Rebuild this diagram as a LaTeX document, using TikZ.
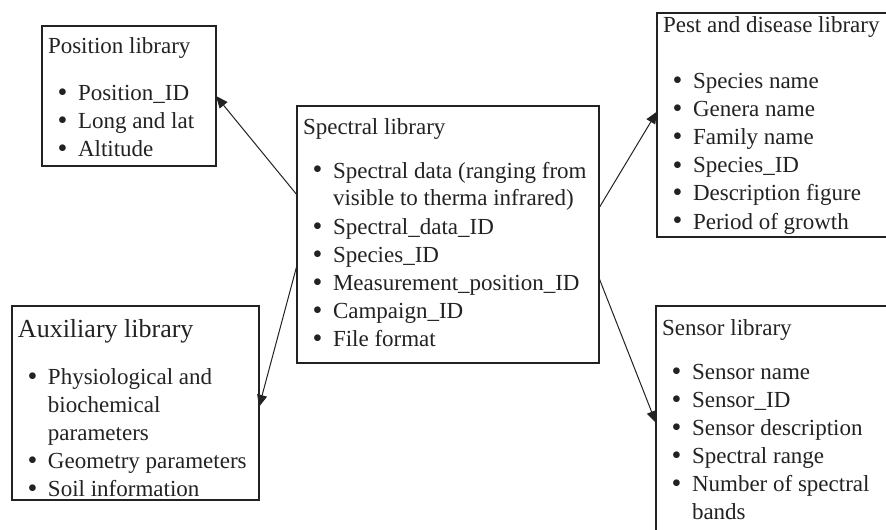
\documentclass[tikz,border=0pt]{standalone}
\usepackage{fontspec}
\setmainfont{Liberation Serif}
\usetikzlibrary{arrows.meta,calc}
\definecolor{lgrey}{HTML}{222222}

% one bullet line of a library box
\newcommand{\itm}{\par\hangindent=15pt\hangafter=1\noindent
  \makebox[15pt][l]{\hspace{4.8pt}\raisebox{-0.5pt}{\scalebox{1.22}{\textbullet}}}}
% line break inside one item, keeps the hanging indent
\newcommand{\brk}{\hfil\break}
% box text: width, height, title top, gap after title, title, items
\newcommand{\libtext}[6]{\parbox[t][#2][t]{\dimexpr#1-6pt\relax}{\rule{0pt}{#3}#5\par\vspace{#4}#6}}

\begin{document}
\begin{tikzpicture}[
  x=0.5pt, y=-0.5pt,
  lib/.style={draw=lgrey, line width=0.6pt, anchor=north west, inner xsep=3pt, inner ysep=0pt,
              outer sep=0pt, text=lgrey, font=\fontsize{11.5}{14}\selectfont},
  link/.style={-{Triangle[length=6pt,width=5pt]}, lgrey, line width=0.5pt},
]
\useasboundingbox (0,0) rectangle (886,529);

% ---------------- the libraries ----------------
\node[lib] (spec) at (297,106) {\libtext{151pt}{128.5pt}{14pt}{8pt}{Spectral library}{%
  \itm \mbox{Spectral data (ranging from}\brk\mbox{visible to therma infrared)}
  \itm Spectral\_data\_ID
  \itm Species\_ID
  \itm Measurement\_position\_ID
  \itm Campaign\_ID
  \itm File format}};
\node[lib] (pos) at (42,26) {\libtext{87pt}{70pt}{14pt}{9.5pt}{Position library}{%
  \itm Position\_ID
  \itm Long and lat
  \itm Altitude}};
\node[lib] (pest) at (657,13) {\libtext{120pt}{112pt}{10pt}{14pt}{Pest and disease library}{%
  \itm Species name
  \itm Genera name
  \itm Family name
  \itm Species\_ID
  \itm Description figure
  \itm Period of growth}};
\node[lib] (aux) at (12,306) {\libtext{123.5pt}{97pt}{15.5pt}{9.5pt}%
  {{\fontsize{13}{16}\selectfont Auxiliary library}}{%
  \itm Physiological and\brk biochemical\brk parameters
  \itm \mbox{Geometry parameters}
  \itm Soil information}};
\node[lib] (sensor) at (656,306) {\libtext{120pt}{117pt}{14.5pt}{8pt}{Sensor library}{%
  \itm Sensor name
  \itm Sensor\_ID
  \itm Sensor description
  \itm Spectral range
  \itm Number of spectral\brk bands}};

% ---------------- the links ----------------
\draw[link] ($(spec.north west)!0.346!(spec.south west)$) -- (pos.east);
\draw[link] ($(spec.north east)!0.397!(spec.south east)$) -- ($(pest.north west)!0.44!(pest.south west)$);
\draw[link] ($(spec.north west)!0.619!(spec.south west)$) -- ($(aux.north east)!0.52!(aux.south east)$);
\draw[link] ($(spec.north east)!0.669!(spec.south east)$) -- ($(sensor.north west)+(0,117)$);

\end{tikzpicture}
\end{document}
